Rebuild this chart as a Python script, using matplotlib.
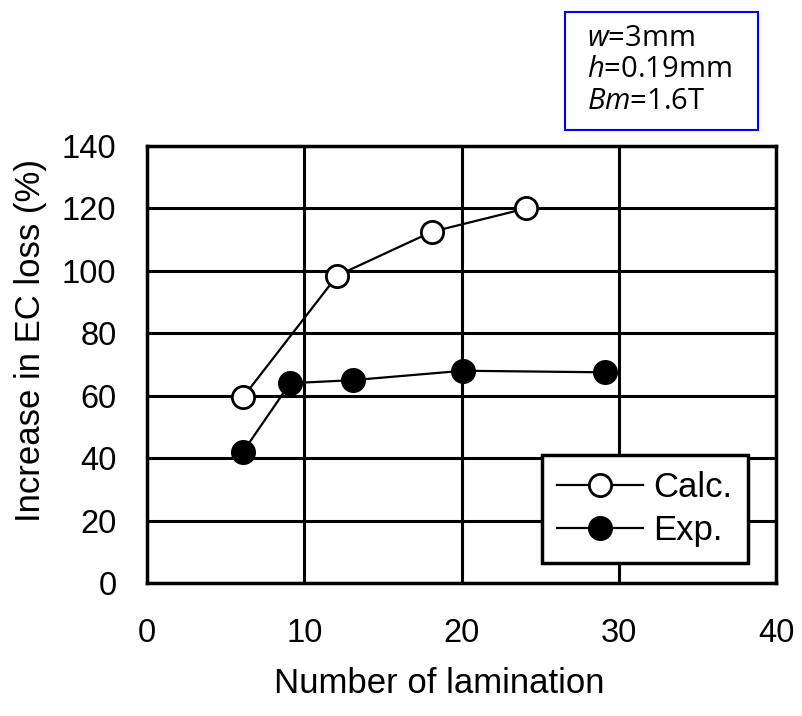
import matplotlib
matplotlib.use('Agg')
import matplotlib.pyplot as plt
from matplotlib.patches import Rectangle

plt.rcParams['font.family'] = ['Liberation Sans', 'DejaVu Sans']
plt.rcParams['mathtext.fontset'] = 'custom'
plt.rcParams['mathtext.it'] = 'Open Sans:italic'
plt.rcParams['mathtext.rm'] = 'Open Sans'

# data
calc_x = [6.1, 12.1, 18.1, 24.1]
calc_y = [59.5, 98.5, 112.5, 120.0]
exp_x = [6.1, 9.1, 13.1, 20.1, 29.1]
exp_y = [42.0, 64.0, 65.0, 68.0, 67.5]

xticks = [0, 10, 20, 30, 40]
yticks = [0, 20, 40, 60, 80, 100, 120, 140]

fig = plt.figure(figsize=(8.02, 7.16), dpi=100)
ax = fig.add_axes([0.1833, 0.1858, 0.7843, 0.6102])

ax.plot(calc_x, calc_y, '-o', color='black', lw=1.6, ms=16,
        mfc='white', mec='black', mew=2, label='Calc.', zorder=3)
ax.plot(exp_x, exp_y, '-o', color='black', lw=1.6, ms=16,
        mfc='black', mec='black', mew=2, label='Exp.', zorder=3)

ax.set_xlim(0, 40)
ax.set_ylim(0, 140)
ax.set_xticks(xticks)
ax.set_yticks(yticks)
ax.grid(True, color='black', lw=2.2)
ax.set_axisbelow(True)
for s in ax.spines.values():
    s.set_linewidth(2.5)
ax.tick_params(length=0, labelsize=23.5)
ax.tick_params(axis='x', pad=25)
ax.tick_params(axis='y', pad=22)

ax.set_xlabel('Number of lamination', fontsize=25, labelpad=13, x=0.464)
ax.set_ylabel('Increase in EC loss (%)', fontsize=25, labelpad=11, y=0.556)

leg = ax.legend(loc='lower right', bbox_to_anchor=(0.9555, 0.0458), fontsize=25,
                frameon=True, fancybox=False, handlelength=2.46,
                handletextpad=0.31, borderpad=0.45, labelspacing=0.3,
                borderaxespad=0)
leg.get_frame().set_edgecolor('black')
leg.get_frame().set_linewidth(2.5)
leg.get_frame().set_alpha(1)

# parameter box
fig.patches.append(Rectangle((0.7045, 0.8184), 0.2406, 0.1648,
                             transform=fig.transFigure, fc='white',
                             ec='#0000ff', lw=1.5))
fig.text(0.732, 0.967, '$w$=3mm\n$h$=0.19mm\n$Bm$=1.6T', fontsize=21,
         family='Open Sans', va='top', ha='left', linespacing=1.12)

fig.savefig('out.png', dpi=100)
